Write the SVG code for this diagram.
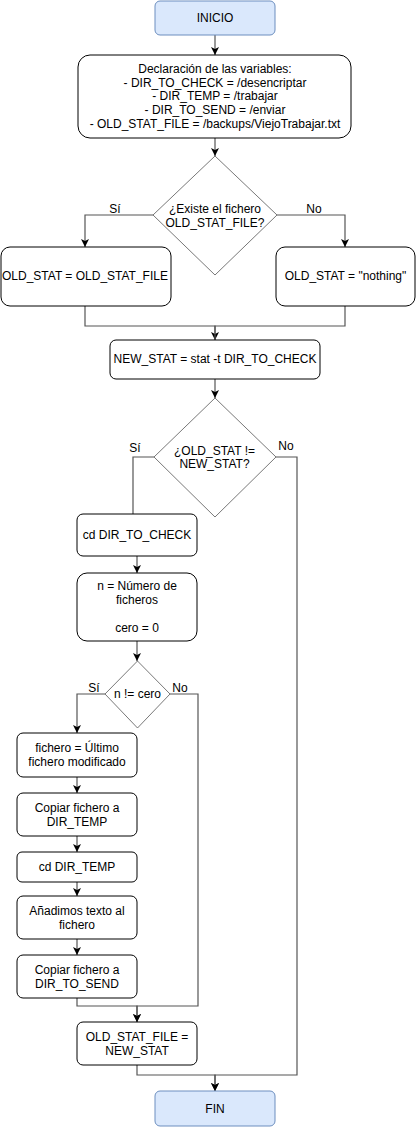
<svg xmlns="http://www.w3.org/2000/svg" width="416" height="1127" viewBox="0 0 416 1127">
<style>
text{font-family:"Liberation Sans",Arial,sans-serif;font-size:12px;fill:#000;text-anchor:middle}
.box{fill:#fff;stroke:#000;stroke-width:1}
.term{fill:#dae8fc;stroke:#6c8ebf;stroke-width:1}
.dia{fill:#fff;stroke:#555;stroke-width:0.8}
.edge{fill:none;stroke:#555;stroke-width:1.2}
</style>
<defs>
<marker id="arr" markerUnits="userSpaceOnUse" markerWidth="10" markerHeight="10" refX="8" refY="4" orient="auto">
<path d="M0,0 L8,4 L0,8 L2,4 Z" fill="#000"/>
</marker>
</defs>
<rect width="416" height="1127" fill="#fff"/>
<g id="connectors">
<path class="edge" d="M215 35 V55" marker-end="url(#arr)"/>
<path class="edge" d="M215 138 V156" marker-end="url(#arr)"/>
<path class="edge" d="M153 215 H85 V247" marker-end="url(#arr)"/>
<path class="edge" d="M277 215 H345 V247" marker-end="url(#arr)"/>
<path class="edge" d="M85 306 V326 H215 V340" marker-end="url(#arr)"/>
<path class="edge" d="M345 306 V326 H215 V340"/>
<path class="edge" d="M215 379 V398" marker-end="url(#arr)"/>
<path class="edge" d="M154 457 H133 V514"/>
<path class="edge" d="M276 457 H297 V1075 H215 V1091" marker-end="url(#arr)"/>
<path class="edge" d="M137 556 V573" marker-end="url(#arr)"/>
<path class="edge" d="M137 641 V661" marker-end="url(#arr)"/>
<path class="edge" d="M105 694 H77 V733" marker-end="url(#arr)"/>
<path class="edge" d="M170 694 H198 V1006 H137 V1022" marker-end="url(#arr)"/>
<path class="edge" d="M77 777 V793" marker-end="url(#arr)"/>
<path class="edge" d="M77 836 V852" marker-end="url(#arr)"/>
<path class="edge" d="M77 882 V896" marker-end="url(#arr)"/>
<path class="edge" d="M77 939 V955" marker-end="url(#arr)"/>
<path class="edge" d="M77 998 V1006 H137 V1022" marker-end="url(#arr)"/>
<path class="edge" d="M137 1065 V1075 H215 V1091" marker-end="url(#arr)"/>
<text x="115" y="213">Sí</text>
<text x="314" y="213">No</text>
<text x="135" y="452">Sí</text>
<text x="286" y="450">No</text>
<text x="94" y="692">Sí</text>
<text x="180" y="692">No</text>
</g>
<g id="inicio">
<rect class="term" x="155" y="1" width="120" height="34" rx="5"/>
<text x="215" y="22">INICIO</text>
</g>
<g id="declaracion">
<rect class="box" x="78" y="55" width="273" height="83" rx="12"/>
<text x="215" y="73">Declaración de las variables:</text>
<text x="215" y="86.5">- DIR_TO_CHECK = /desencriptar</text>
<text x="215" y="100">- DIR_TEMP = /trabajar</text>
<text x="215" y="114">- DIR_TO_SEND = /enviar</text>
<text x="215" y="128">- OLD_STAT_FILE = /backups/ViejoTrabajar.txt</text>
</g>
<g id="existe">
<polygon class="dia" points="215,156 277,215 215,275 153,215"/>
<text x="215" y="212.7">¿Existe el fichero</text>
<text x="215" y="226.7">OLD_STAT_FILE?</text>
</g>
<g id="oldstat-file">
<rect class="box" x="1" y="247" width="170" height="59" rx="9"/>
<text x="85" y="280">OLD_STAT = OLD_STAT_FILE</text>
</g>
<g id="oldstat-nothing">
<rect class="box" x="276" y="247" width="139" height="59" rx="9"/>
<text x="345.5" y="280">OLD_STAT = "nothing"</text>
</g>
<g id="newstat">
<rect class="box" x="110" y="340" width="210" height="39" rx="6"/>
<text x="215" y="363.3">NEW_STAT = stat -t DIR_TO_CHECK</text>
</g>
<g id="compara">
<polygon class="dia" points="215,398 276,457 215,517 154,457"/>
<text x="214.5" y="455">¿OLD_STAT !=</text>
<text x="214.5" y="468.3">NEW_STAT?</text>
</g>
<g id="cd-check">
<rect class="box" x="77" y="514" width="120" height="42" rx="6"/>
<text x="137" y="539">cd DIR_TO_CHECK</text>
</g>
<g id="numero">
<rect class="box" x="77" y="573" width="120" height="68" rx="10"/>
<text x="137" y="590">n = Número de</text>
<text x="137" y="603.5">ficheros</text>
<text x="137" y="631.7">cero = 0</text>
</g>
<g id="n-cero">
<polygon class="dia" points="137.5,661 170,694 137.5,728 105,694"/>
<text x="137.5" y="698.3">n != cero</text>
</g>
<g id="fichero">
<rect class="box" x="17" y="733" width="120" height="44" rx="6"/>
<text x="77" y="751.7">fichero = Último</text>
<text x="77" y="765.7">fichero modificado</text>
</g>
<g id="copiar-temp">
<rect class="box" x="17" y="793" width="120" height="43" rx="6"/>
<text x="77" y="811.7">Copiar fichero a</text>
<text x="77" y="825.7">DIR_TEMP</text>
</g>
<g id="cd-temp">
<rect class="box" x="17" y="852" width="120" height="30" rx="5"/>
<text x="77" y="871">cd DIR_TEMP</text>
</g>
<g id="anadimos">
<rect class="box" x="17" y="896" width="120" height="43" rx="6"/>
<text x="77" y="915">Añadimos texto al</text>
<text x="77" y="928.5">fichero</text>
</g>
<g id="copiar-send">
<rect class="box" x="17" y="955" width="120" height="43" rx="6"/>
<text x="77" y="974.3">Copiar fichero a</text>
<text x="77" y="988.3">DIR_TO_SEND</text>
</g>
<g id="oldstat-update">
<rect class="box" x="77" y="1022" width="120" height="43" rx="6"/>
<text x="137" y="1040.7">OLD_STAT_FILE =</text>
<text x="137" y="1055">NEW_STAT</text>
</g>
<g id="fin">
<rect class="term" x="155" y="1091" width="120" height="35" rx="5"/>
<text x="215" y="1112.7">FIN</text>
</g>
</svg>
